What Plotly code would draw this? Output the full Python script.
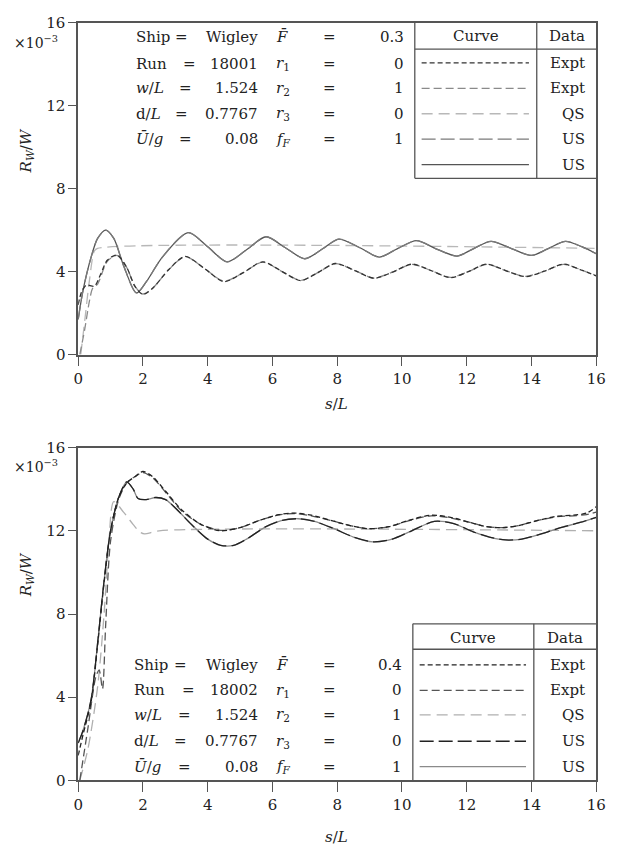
import plotly.graph_objects as go

W, H = 617, 856

# ---------------- data: top panel (Run 18001, F = 0.3) ----------------
top_expt_x = [0, 0.1, 0.25, 0.5, 0.7, 0.9, 1.2, 1.5, 1.75, 2.0, 2.3, 2.8, 3.3, 3.9, 4.5, 5.1, 5.7, 6.3,
              6.87, 7.4, 7.94, 8.55, 9.13, 9.7, 10.31, 10.9, 11.5, 12.05, 12.62, 13.2, 13.81, 14.4, 14.99, 15.5, 16.0]
top_expt_y = [2.4, 3.0, 3.35, 3.3, 3.9, 4.55, 4.8, 4.2, 3.3, 2.9, 3.2, 4.1, 4.73, 4.15, 3.52, 3.95, 4.47, 4.0,
              3.57, 3.95, 4.39, 4.05, 3.68, 3.97, 4.36, 4.05, 3.71, 4.0, 4.36, 4.05, 3.76, 4.02, 4.36, 4.1, 3.79]
top_expt2_x = [0.05, 0.2, 0.35, 0.45, 0.6, 0.9, 1.2, 1.5, 1.75, 2.0, 2.3, 2.8, 3.3, 3.9, 4.5, 5.1, 5.7, 6.3,
               6.87, 7.4, 7.94, 8.55, 9.13, 9.7, 10.31, 10.9, 11.5, 12.05, 12.62, 13.2, 13.81, 14.4, 14.99, 15.5, 16.0]
top_expt2_y = [0.0, 1.2, 2.6, 3.2, 3.4, 4.5, 4.78, 4.2, 3.3, 2.92, 3.2, 4.1, 4.72, 4.15, 3.54, 3.95, 4.46, 4.0,
               3.58, 3.95, 4.38, 4.05, 3.69, 3.97, 4.35, 4.05, 3.72, 4.0, 4.35, 4.05, 3.77, 4.02, 4.35, 4.1, 3.8]
top_qs_x = [0.08, 0.2, 0.35, 0.5, 0.6, 16.0]
top_qs_y = [0.0, 1.6, 3.6, 5.0, 5.12, 5.12]
top_us_x = [0, 0.15, 0.4, 0.6, 0.85, 1.1, 1.4, 1.8, 2.1, 2.6, 3.4, 4.0, 4.6, 5.2, 5.8, 6.4, 7.0, 7.55, 8.05,
            8.7, 9.3, 9.85, 10.45, 11.05, 11.7, 12.2, 12.75, 13.4, 14.0, 14.5, 15.05, 15.55, 16.0]
top_us_y = [1.7, 3.1, 4.7, 5.6, 6.0, 5.6, 4.3, 2.97, 3.5, 4.7, 5.88, 5.2, 4.47, 5.05, 5.68, 5.15, 4.62, 5.1, 5.57,
            5.15, 4.7, 5.1, 5.49, 5.1, 4.75, 5.1, 5.46, 5.1, 4.78, 5.1, 5.46, 5.2, 4.86]

# ---------------- data: bottom panel (Run 18002, F = 0.4) ----------------
bot_expt_x = [0, 0.15, 0.4, 0.6, 0.8, 1.0, 1.25, 1.5, 1.75, 2.0, 2.3, 2.7, 3.2, 3.8, 4.4, 5.0, 5.6, 6.2, 6.7,
              7.2, 7.8, 8.4, 9.0, 9.6, 10.2, 10.9, 11.5, 12.1, 12.6, 13.1, 13.6, 14.2, 14.8, 15.3, 15.7, 16.0]
bot_expt_y = [1.2, 2.2, 3.8, 6.5, 9.5, 12.0, 13.6, 14.3, 14.6, 14.85, 14.6, 13.9, 13.0, 12.3, 12.0, 12.15, 12.5,
              12.78, 12.85, 12.75, 12.5, 12.25, 12.1, 12.2, 12.5, 12.75, 12.65, 12.4, 12.2, 12.15, 12.25, 12.5,
              12.7, 12.75, 12.85, 13.15]
bot_expt2_x = [0.05, 0.3, 0.55, 0.65, 0.75, 0.85, 1.0, 1.25, 1.5, 1.75, 2.0, 2.3, 2.7, 3.2, 3.8, 4.4, 5.0, 5.6,
               6.2, 6.7, 7.2, 7.8, 8.4, 9.0, 9.6, 10.2, 10.9, 11.5, 12.1, 12.6, 13.1, 13.6, 14.2, 14.8, 15.3, 15.7, 16.0]
bot_expt2_y = [0.0, 2.5, 5.0, 5.3, 4.4, 7.5, 11.5, 13.5, 14.3, 14.6, 14.8, 14.55, 13.85, 12.95, 12.3, 12.02, 12.15,
               12.5, 12.76, 12.83, 12.72, 12.5, 12.25, 12.1, 12.2, 12.48, 12.72, 12.62, 12.4, 12.2, 12.15, 12.25,
               12.5, 12.68, 12.72, 12.78, 12.9]
bot_qs_x = [0.05, 0.3, 0.6, 0.8, 0.95, 1.1, 1.4, 1.7, 1.9, 2.05, 2.5, 16.0]
bot_qs_y = [0.0, 1.5, 4.5, 8.0, 11.5, 13.4, 12.9, 12.3, 11.95, 11.85, 12.0, 12.0]
bot_us_x = [0, 0.15, 0.4, 0.6, 0.8, 1.0, 1.25, 1.5, 1.7, 1.85, 2.1, 2.4, 2.7, 3.0, 3.5, 4.0, 4.4, 4.8, 5.2, 5.8,
            6.3, 6.8, 7.3, 7.9, 8.5, 9.1, 9.7, 10.3, 11.0, 11.6, 12.2, 12.7, 13.2, 13.7, 14.3, 14.9, 15.5, 16.0]
bot_us_y = [1.8, 2.4, 3.9, 6.6, 9.6, 12.0, 13.6, 14.35, 14.0, 13.55, 13.5, 13.6, 13.5, 13.1, 12.3, 11.6, 11.3, 11.3,
            11.6, 12.2, 12.5, 12.58, 12.45, 12.1, 11.7, 11.47, 11.6, 12.0, 12.45, 12.35, 11.95, 11.7, 11.56, 11.6,
            11.85, 12.15, 12.4, 12.65]

x_ticks = [0, 2, 4, 6, 8, 10, 12, 14, 16]
y_ticks = [0, 4, 8, 12, 16]

# legend table text
param_labels = ["Ship", "Run", "<i>w</i>/<i>L</i>", "d/<i>L</i>", "<i>\u016a</i>/<i>g</i>"]
top_param_values = ["Wigley", "18001", "1.524", "0.7767", "0.08"]
bot_param_values = ["Wigley", "18002", "1.524", "0.7767", "0.08"]
coef_labels = ["<i>F\u0304</i>", "<i>r</i><sub>1</sub>", "<i>r</i><sub>2</sub>", "<i>r</i><sub>3</sub>",
               "<i>f</i><sub><i>F</i></sub>"]
top_coef_values = ["0.3", "0", "1", "0", "1"]
bot_coef_values = ["0.4", "0", "1", "0", "1"]
data_labels = ["Expt", "Expt", "QS", "US", "US"]

FONT = "DejaVu Serif"
AX = "#555555"

# styles: (dash, colour) per legend row
top_styles = [("5px,3px", "#333333"), ("8px,4px", "#8a8a8a"), ("11px,6px", "#b8b8b8"),
              ("14px,5px", "#7a7a7a"), ("solid", "#555555")]
bot_styles = [("5px,3px", "#222222"), ("8px,4px", "#555555"), ("11px,6px", "#b0b0b0"),
              ("14px,5px", "#222222"), ("solid", "#8a8a8a")]

fig = go.Figure()

def add(xs, ys, style, axis):
    dash, col = style
    fig.add_trace(go.Scatter(x=xs, y=ys, mode="lines", line=dict(color=col, width=1.3, dash=dash,
                                                                    shape="spline", smoothing=0.8),
                             xaxis="x" if axis == 1 else "x2", yaxis="y" if axis == 1 else "y2",
                             showlegend=False, hoverinfo="skip"))

# top panel
add(top_qs_x, top_qs_y, top_styles[2], 1)
add(top_expt2_x, top_expt2_y, top_styles[1], 1)
add(top_us_x, top_us_y, top_styles[4], 1)
add(top_us_x, top_us_y, top_styles[3], 1)
add(top_expt_x, top_expt_y, top_styles[0], 1)
# bottom panel
add(bot_qs_x, bot_qs_y, bot_styles[2], 2)
add(bot_expt2_x, bot_expt2_y, bot_styles[1], 2)
add(bot_us_x, bot_us_y, bot_styles[4], 2)
add(bot_us_x, bot_us_y, bot_styles[3], 2)
add(bot_expt_x, bot_expt_y, bot_styles[0], 2)

def px(x):
    return x / W

def py(y):
    return 1 - y / H

xdom = [px(75), px(606)]
top_dom = [py(353), py(14)]
bot_dom = [py(788), py(448)]

axis_common = dict(showline=True, linecolor=AX, linewidth=1.5, mirror=True, ticks="outside",
                   tickcolor=AX, tickwidth=1.2, showgrid=False, zeroline=False,
                   tickfont=dict(family=FONT, size=15, color="#222"), range=[0, 16], fixedrange=True)

fig.update_layout(
    width=W, height=H, margin=dict(l=0, r=0, t=0, b=0),
    paper_bgcolor="white", plot_bgcolor="white",
    xaxis=dict(axis_common, domain=xdom, anchor="y", tickvals=x_ticks, ticklen=10),
    yaxis=dict(axis_common, domain=top_dom, anchor="x", tickvals=y_ticks, ticklen=8),
    xaxis2=dict(axis_common, domain=xdom, anchor="y2", tickvals=x_ticks, ticklen=10),
    yaxis2=dict(axis_common, domain=bot_dom, anchor="x2", tickvals=y_ticks, ticklen=8),
    showlegend=False,
)

shapes = []
anns = []

def text(x, y, s, anchor="left", size=15, angle=0):
    anns.append(dict(x=px(x), y=py(y), xref="paper", yref="paper", text=s, showarrow=False,
                     xanchor=anchor, yanchor="middle", textangle=angle,
                     font=dict(family=FONT, size=size, color="#222")))

def hline(x0, x1, y, col=AX, w=1.3, dash="solid"):
    shapes.append(dict(type="line", xref="paper", yref="paper", x0=px(x0), x1=px(x1), y0=py(y), y1=py(y),
                       line=dict(color=col, width=w, dash=dash)))

def vline(x, y0, y1, col=AX, w=1.3):
    shapes.append(dict(type="line", xref="paper", yref="paper", x0=px(x), x1=px(x), y0=py(y0), y1=py(y1),
                       line=dict(color=col, width=w)))

def panel_legend(tbl_left, tbl_div, tbl_top, hdr_line, tbl_bottom, hdr_y, rows_y, text_rows_y,
                 x_lab, x_val, coef_vals, param_vals, styles, eq1, x_sym, x_eq2, x_cval, draw_top):
    right = 606
    if draw_top:
        hline(tbl_left, right, tbl_top)
    hline(tbl_left, right, hdr_line)
    if tbl_bottom is not None:
        hline(tbl_left, right, tbl_bottom)
    bottom = tbl_bottom if tbl_bottom is not None else 788
    vline(tbl_left, tbl_top, bottom)
    vline(tbl_div, tbl_top, bottom)
    text((tbl_left + tbl_div) / 2, hdr_y, "Curve", anchor="center")
    text((tbl_div + right) / 2, hdr_y, "Data", anchor="center")
    for i, y in enumerate(rows_y):
        dash, col = styles[i]
        hline(tbl_left + 7, tbl_div - 8, y, col=col, w=1.3, dash=dash)
        text(right - 9, y, data_labels[i], anchor="right")
    for i, y in enumerate(text_rows_y):
        text(x_lab, y, param_labels[i], anchor="left")
        text(eq1[i], y, "=", anchor="center")
        text(x_val, y, param_vals[i], anchor="right")
        text(x_sym, y, coef_labels[i], anchor="left")
        text(x_eq2, y, "=", anchor="center")
        text(x_cval, y, coef_vals[i], anchor="right")

panel_legend(420, 545, 14, 41, 173, 28, [55, 81, 107, 133, 159], [29, 56, 81, 107, 133],
             132, 261, top_coef_values, top_param_values, top_styles, [181, 189, 185, 181, 185],
             276, 333, 411, draw_top=False)
panel_legend(418, 542, 628, 654, None, 642, [670, 696, 721, 748, 774], [670, 696, 721, 748, 774],
             130, 261, bot_coef_values, bot_param_values, bot_styles, [180, 188, 184, 180, 184],
             276, 333, 409, draw_top=True)

# axis titles and multipliers
for (ylab, ymul, xt) in [(145, 34, 403), (578, 467, 846)]:
    text(22, ylab, "<i>R</i><sub><i>W</i></sub>/<i>W</i>", anchor="center", size=15, angle=-90)
    text(32, ymul, "\u00d710<sup>\u22123</sup>", anchor="center", size=14)
    text(340, xt, "<i>s</i>/<i>L</i>", anchor="center", size=15)

fig.update_layout(shapes=shapes, annotations=anns)
fig.write_html("out.html")
